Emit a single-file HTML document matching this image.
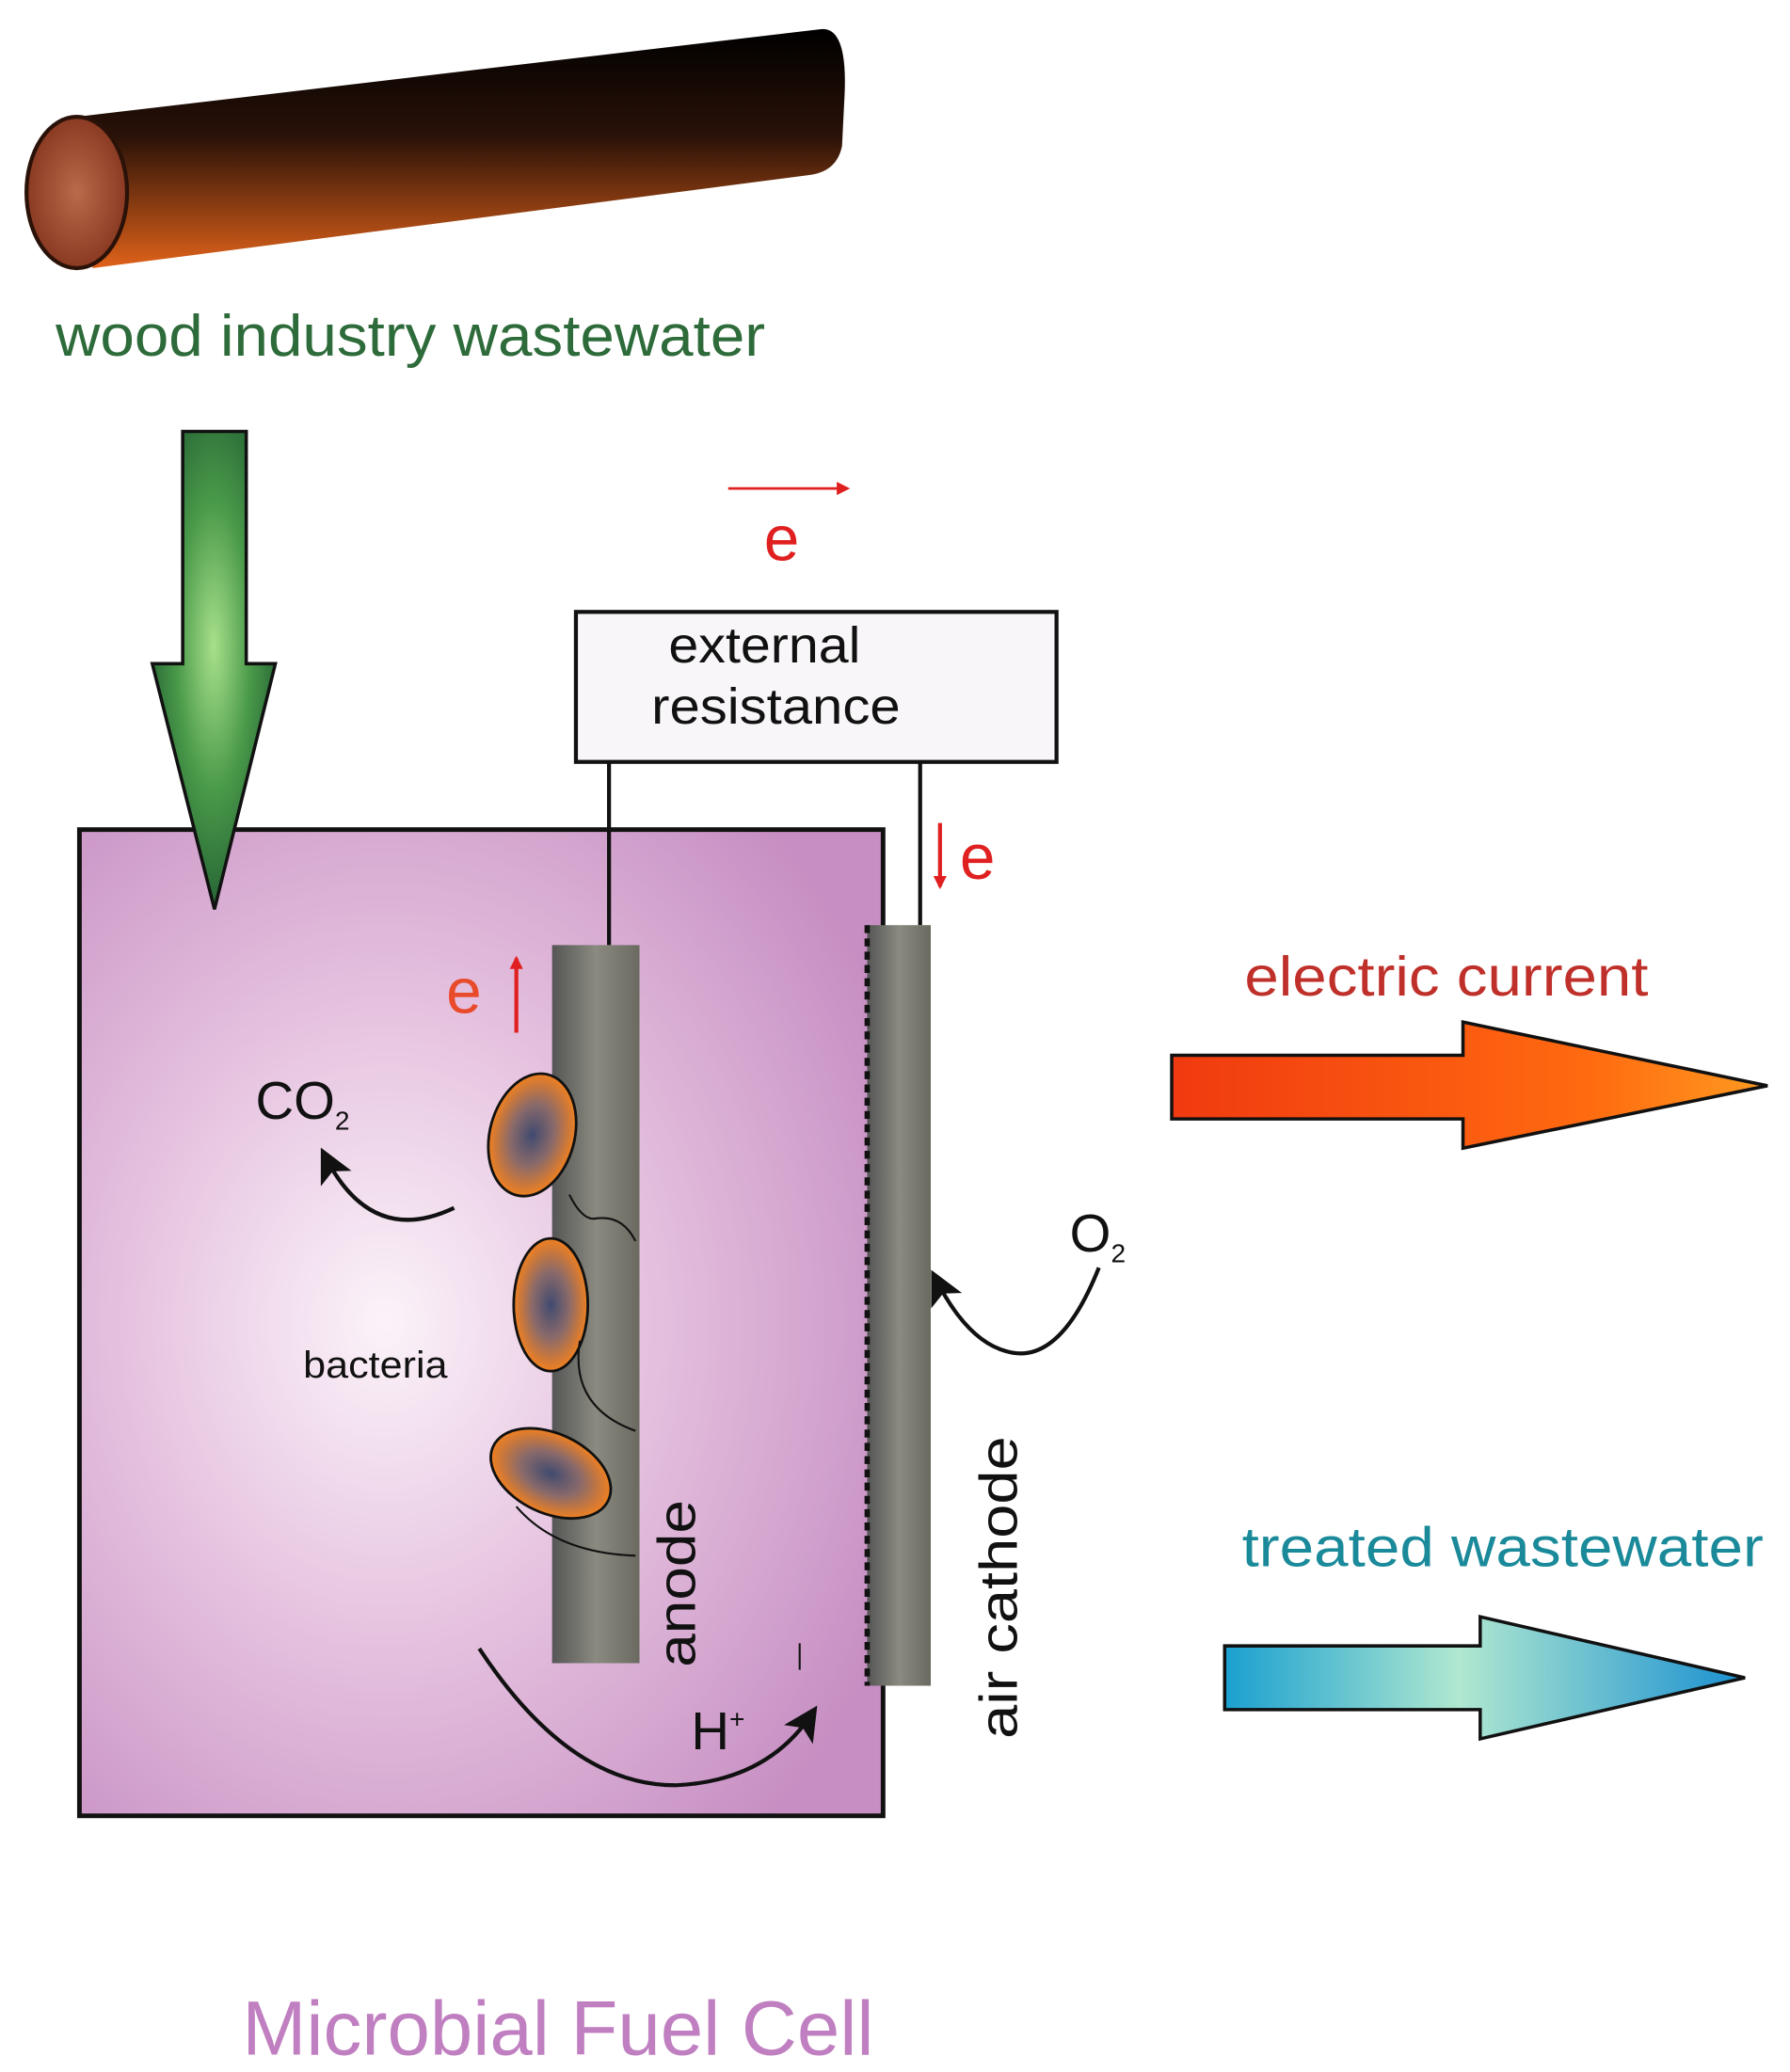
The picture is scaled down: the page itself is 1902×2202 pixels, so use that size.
<!DOCTYPE html>
<html><head><meta charset="utf-8"><style>
html,body{margin:0;padding:0;background:#fff;}
svg{display:block;}
text{font-family:"Liberation Sans",sans-serif;}
</style></head><body>
<svg width="1902" height="2202" viewBox="0 0 1352 1561" preserveAspectRatio="none" xmlns="http://www.w3.org/2000/svg">
<defs>
<linearGradient id="log" x1="0" y1="0" x2="0" y2="1">
<stop offset="0" stop-color="#000"/><stop offset="0.45" stop-color="#2a1208"/><stop offset="1" stop-color="#e0621a"/>
</linearGradient>
<radialGradient id="logend" cx="0.5" cy="0.5" r="0.5">
<stop offset="0" stop-color="#b86a4a"/><stop offset="1" stop-color="#8a3a22"/>
</radialGradient>
<radialGradient id="green" cx="0.5" cy="0.45" r="0.6">
<stop offset="0" stop-color="#a8e08a"/><stop offset="0.5" stop-color="#4a9a4a"/><stop offset="1" stop-color="#1e5a30"/>
</radialGradient>
<radialGradient id="box" cx="0.38" cy="0.5" r="0.7">
<stop offset="0" stop-color="#fbf3f9"/><stop offset="0.45" stop-color="#e6c3e0"/><stop offset="1" stop-color="#c68ec2"/>
</radialGradient>
<linearGradient id="rod" x1="0" y1="0" x2="1" y2="0">
<stop offset="0" stop-color="#555"/><stop offset="0.5" stop-color="#8a8a80"/><stop offset="1" stop-color="#6a6a60"/>
</linearGradient>
<linearGradient id="red" x1="0" y1="0" x2="1" y2="0">
<stop offset="0" stop-color="#f03a10"/><stop offset="0.7" stop-color="#ff6a10"/><stop offset="1" stop-color="#ff9a20"/>
</linearGradient>
<linearGradient id="cyan" x1="0" y1="0" x2="1" y2="0">
<stop offset="0" stop-color="#1aa0d0"/><stop offset="0.45" stop-color="#b0e8d0"/><stop offset="1" stop-color="#1a90d0"/>
</linearGradient>
<radialGradient id="bact" cx="0.5" cy="0.5" r="0.5">
<stop offset="0" stop-color="#404a70"/><stop offset="0.5" stop-color="#8a6a6a"/><stop offset="1" stop-color="#f08020"/>
</radialGradient>
<marker id="ah" markerWidth="10" markerHeight="10" refX="8" refY="5" orient="auto" markerUnits="userSpaceOnUse">
<path d="M0,0 L10,5 L0,10 Z" fill="#e02020"/></marker>
<marker id="bh" markerWidth="26" markerHeight="26" refX="20" refY="13" orient="auto" markerUnits="userSpaceOnUse">
<path d="M0,0 L26,13 L0,26 L6,13 Z" fill="#111"/></marker>
</defs>

<!-- log -->
<path d="M58,88 L620,22 Q640,20 638,70 L636,110 Q632,130 610,132 L70,202 Z" fill="url(#log)"/>
<ellipse cx="58" cy="145" rx="38" ry="57" fill="url(#logend)" stroke="#2a1208" stroke-width="3"/>
<text x="42" y="268" font-size="44" fill="#2e6b3a" textLength="536" lengthAdjust="spacingAndGlyphs">wood industry wastewater</text>

<!-- box -->
<rect x="60" y="625" width="607" height="743" fill="url(#box)" stroke="#111" stroke-width="3.5"/>

<!-- green arrow -->
<path d="M138,325 L186,325 L186,500 L208,500 L162,685 L115,500 L138,500 Z" fill="url(#green)" stroke="#111" stroke-width="2.5"/>

<!-- external resistance -->
<rect x="435" y="461" width="363" height="113" fill="#f8f6f8" stroke="#111" stroke-width="3"/>
<text x="505" y="499" font-size="38" fill="#111" textLength="145" lengthAdjust="spacingAndGlyphs">external</text>
<text x="492" y="545" font-size="38" fill="#111" textLength="188" lengthAdjust="spacingAndGlyphs">resistance</text>
<line x1="460" y1="574" x2="460" y2="712" stroke="#111" stroke-width="3"/>
<line x1="695" y1="574" x2="695" y2="697" stroke="#111" stroke-width="3"/>

<line x1="550" y1="368" x2="640" y2="368" stroke="#e02020" stroke-width="2" marker-end="url(#ah)"/>
<text x="577" y="422" font-size="48" fill="#e02020">e</text>
<line x1="710" y1="620" x2="710" y2="668" stroke="#e02020" stroke-width="3" marker-end="url(#ah)"/>
<text x="725" y="662" font-size="48" fill="#e02020">e</text>
<line x1="390" y1="778" x2="390" y2="722" stroke="#e02020" stroke-width="3" marker-end="url(#ah)"/>
<text x="337" y="763" font-size="48" fill="#e84a2a">e</text>

<!-- electrodes -->
<rect x="417" y="712" width="66" height="541" fill="url(#rod)"/>
<rect x="655" y="697" width="48" height="573" fill="url(#rod)"/>
<line x1="655" y1="697" x2="655" y2="1270" stroke="#111" stroke-width="4" stroke-dasharray="6,4"/>

<!-- bacteria -->
<ellipse cx="402" cy="855" rx="32" ry="47" transform="rotate(15 402 855)" fill="url(#bact)" stroke="#111" stroke-width="2"/>
<ellipse cx="416" cy="983" rx="28" ry="50" fill="url(#bact)" stroke="#111" stroke-width="2"/>
<ellipse cx="416" cy="1110" rx="48" ry="30" transform="rotate(25 416 1110)" fill="url(#bact)" stroke="#111" stroke-width="2"/>
<path d="M430,900 Q440,920 450,918 Q470,915 480,935" fill="none" stroke="#111" stroke-width="1.5"/>
<path d="M438,1010 Q430,1060 480,1078" fill="none" stroke="#111" stroke-width="1.5"/>
<path d="M390,1135 Q420,1170 480,1172" fill="none" stroke="#111" stroke-width="1.5"/>

<!-- CO2 -->
<text x="193" y="843" font-size="40" fill="#111">CO<tspan font-size="20" dy="8">2</tspan></text>
<path d="M343,910 Q280,940 245,870" fill="none" stroke="#111" stroke-width="3" marker-end="url(#bh)"/>
<!-- O2 -->
<text x="808" y="943" font-size="40" fill="#111">O<tspan font-size="20" dy="8">2</tspan></text>
<path d="M830,955 Q800,1030 760,1018 Q730,1010 706,962" fill="none" stroke="#111" stroke-width="3" marker-end="url(#bh)"/>

<text x="229" y="1038" font-size="28" fill="#111" textLength="109" lengthAdjust="spacingAndGlyphs">bacteria</text>
<text transform="translate(525,1256) rotate(-90)" font-size="40" fill="#111" textLength="126" lengthAdjust="spacingAndGlyphs">anode</text>
<text transform="translate(768,1310) rotate(-90)" font-size="40" fill="#111" textLength="228" lengthAdjust="spacingAndGlyphs">air cathode</text>

<!-- H+ -->
<text x="522" y="1318" font-size="40" fill="#111">H<tspan font-size="20" dy="-16">+</tspan></text>
<path d="M362,1242 Q430,1345 510,1345 Q580,1342 614,1290" fill="none" stroke="#111" stroke-width="3" marker-end="url(#bh)"/>
<line x1="604" y1="1238" x2="604" y2="1258" stroke="#111" stroke-width="1.5"/>

<!-- electric current -->
<text x="940" y="750" font-size="42" fill="#c0302a" textLength="305" lengthAdjust="spacingAndGlyphs">electric current</text>
<path d="M885,795 L1105,795 L1105,770 L1335,818 L1105,865 L1105,843 L885,843 Z" fill="url(#red)" stroke="#111" stroke-width="2.5"/>

<!-- treated wastewater -->
<text x="938" y="1180" font-size="42" fill="#1a8a9a" textLength="394" lengthAdjust="spacingAndGlyphs">treated wastewater</text>
<path d="M925,1240 L1118,1240 L1118,1218 L1318,1264 L1118,1310 L1118,1288 L925,1288 Z" fill="url(#cyan)" stroke="#111" stroke-width="2.5"/>

<text x="183" y="1548" font-size="58" fill="#c07fc0" textLength="477" lengthAdjust="spacingAndGlyphs">Microbial Fuel Cell</text>
</svg>
</body></html>
